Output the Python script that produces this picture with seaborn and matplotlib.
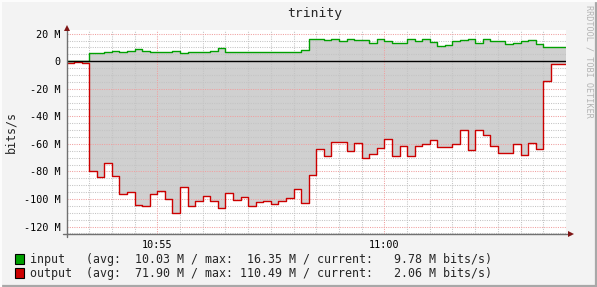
import numpy as np
import pandas as pd
import matplotlib
matplotlib.use("Agg")
import matplotlib.pyplot as plt
import seaborn as sns
from matplotlib.ticker import FixedLocator, MultipleLocator
from matplotlib.patches import Rectangle
from matplotlib.lines import Line2D

# ---------------- data (Mbit/s, 10 s steps starting 10:53:00) ----------------
title = "trinity"
y_label = "bits/s"
watermark = "RRDTOOL / TOBI OETIKER"
step_seconds = 10

input_mbits = [
    0.0, 0.0, 0.0,
    5.8, 5.8, 6.5, 7.3, 6.5, 7.3, 8.7, 7.3, 6.5, 6.5,
    6.5, 7.3, 5.8, 6.5, 6.5, 6.5, 7.3, 9.4, 6.5, 6.5,
    6.5, 6.5, 6.5, 6.5, 6.5, 6.5, 6.5, 6.5, 8.0, 16.0,
    16.3, 15.2, 16.0, 14.5, 16.0, 15.2, 15.2, 13.1, 16.35, 14.5,
    13.1, 13.1, 16.0, 14.5, 16.0, 13.8, 11.1, 11.8, 14.5, 15.2,
    16.0, 13.1, 16.0, 14.5, 14.5, 12.3, 13.1, 14.5, 15.2, 12.3,
    10.2, 10.6, 10.6,
]

output_mbits = [
    -1.2, -0.5, -1.2,
    -79.4, -84.2, -73.6, -83.5, -96.5, -95.1, -104.5, -105.2, -96.5, -94.3,
    -99.7, -110.49, -91.4, -105.2, -101.6, -98.0, -101.6, -106.7, -95.8, -100.9,
    -98.7, -105.2, -102.3, -101.6, -103.8, -101.6, -99.4, -92.9, -103.0, -82.5,
    -63.9, -68.9, -58.8, -58.8, -65.3, -59.5, -70.4, -67.5, -63.1, -56.6,
    -68.9, -61.7, -68.9, -61.7, -60.2, -57.3, -62.4, -62.4, -60.2, -50.1,
    -64.6, -50.1, -53.7, -61.7, -66.8, -66.8, -60.2, -68.2, -59.5, -63.9,
    -14.5, -2.06, -2.06,
]

time_tick_minutes = [2, 7]
time_tick_labels = ["10:55", "11:00"]
y_tick_values = [20, 0, -20, -40, -60, -80, -100, -120]
y_tick_labels = ["20 M", "0", "-20 M", "-40 M", "-60 M", "-80 M", "-100 M", "-120 M"]

legend_texts = [
    "input   (avg:  10.03 M / max:  16.35 M / current:   9.78 M bits/s)",
    "output  (avg:  71.90 M / max: 110.49 M / current:   2.06 M bits/s)",
]

# ---------------- styling ----------------
c_in = "#00a000"
c_out = "#cc0000"
c_fill = "#d0d0d0"
c_back = "#f3f3f3"
c_minor = "#c4c4c4"
c_major = "#f0a0a0"
c_arrow = "#7f1515"
mono = ["DejaVu Sans Mono"]

sns.set_theme(style="white")
plt.rcParams["font.family"] = mono

W, H = 597, 287
fig = plt.figure(figsize=(W / 100, H / 100), dpi=100, facecolor=c_back)

px_left, px_right, px_top, px_bottom = 66.5, 566.0, 30.0, 234.3
ax = fig.add_axes([px_left / W, 1 - px_bottom / H,
                   (px_right - px_left) / W, (px_bottom - px_top) / H])
ax.set_facecolor("white")

n = len(input_mbits)
minutes = np.arange(n + 1) * step_seconds / 60.0
df = pd.DataFrame({
    "minute": minutes,
    "input": input_mbits + [input_mbits[-1]],
    "output": output_mbits + [output_mbits[-1]],
})

ax.fill_between(df["minute"], df["input"], df["output"], step="post",
                color=c_fill, lw=0, zorder=1)

ax.set_xlim(0, minutes[-1])
ax.set_ylim(-125.6, 22.7)

ax.xaxis.set_major_locator(FixedLocator(time_tick_minutes))
ax.xaxis.set_minor_locator(MultipleLocator(0.5))
ax.yaxis.set_major_locator(FixedLocator(y_tick_values))
ax.yaxis.set_minor_locator(MultipleLocator(5))
ax.set_xticklabels(time_tick_labels)
ax.set_yticklabels(y_tick_labels)
ax.grid(False)
for v in np.arange(0, minutes[-1] + 1e-9, 0.5):
    if v in time_tick_minutes or v == 0:
        continue
    ax.axvline(v, color=c_minor, lw=0.75, ls=(0, (1, 1.2)), zorder=1.5)
for v in np.arange(-125, 22.7, 5):
    if v in y_tick_values:
        continue
    ax.axhline(v, color=c_minor, lw=0.75, ls=(0, (1, 1.2)), zorder=1.5)
for v in time_tick_minutes:
    ax.axvline(v, color=c_major, lw=0.75, ls=(0, (1, 1.2)), zorder=1.6)
for v in y_tick_values:
    ax.axhline(v, color=c_major, lw=0.75, ls=(0, (1, 1.2)), zorder=1.6)

sns.lineplot(data=df, x="minute", y="input", drawstyle="steps-post",
             color=c_in, lw=1.0, ax=ax, legend=False, zorder=3)
sns.lineplot(data=df, x="minute", y="output", drawstyle="steps-post",
             color=c_out, lw=1.0, ax=ax, legend=False, zorder=3)
ax.axhline(0, color="black", lw=1.0, zorder=3.5)

ax.set_xlabel("")
ax.set_ylabel("")
for s in ax.spines.values():
    s.set_visible(False)

ax.tick_params(axis="both", which="both", direction="out", color="#909090",
               width=0.7, length=2.3, labelsize=7.3, labelcolor="black")
ax.tick_params(axis="y", which="both", pad=2)
ax.tick_params(axis="x", which="both", pad=2)

# axis lines with arrows
ax.add_line(Line2D([-0.007, 1.01], [0, 0], transform=ax.transAxes,
                   color="#707070", lw=1.0, clip_on=False, zorder=4))
ax.add_line(Line2D([0, 0], [-0.015, 1.01], transform=ax.transAxes,
                   color="#707070", lw=1.0, clip_on=False, zorder=4))
ax.plot([1.0095], [0], marker=">", ms=4.5, color=c_arrow, mew=0,
        transform=ax.transAxes, clip_on=False, zorder=5)
ax.plot([0], [1.008], marker="^", ms=4.5, color=c_arrow, mew=0,
        transform=ax.transAxes, clip_on=False, zorder=5)

# texts
fig.text(315 / W, 1 - 14 / H, title, ha="center", va="center",
         fontsize=9.4, family=mono)
fig.text(11 / W, 1 - 132 / H, y_label, ha="center", va="center",
         rotation=90, fontsize=8.4, family=mono)
fig.text(589 / W, 1 - 5 / H, watermark, ha="center", va="top",
         rotation=270, fontsize=6.1, family=mono, color="#b4b4b4")

# legend
for i, (txt, col) in enumerate(zip(legend_texts, [c_in, c_out])):
    yc = 259 + 14 * i
    fig.patches.append(Rectangle((14.5 / W, 1 - (yc + 5) / H), 9 / W, 10 / H,
                                 transform=fig.transFigure, facecolor=col,
                                 edgecolor="black", lw=0.8))
    fig.text(30 / W, 1 - yc / H, txt, ha="left", va="center",
             fontsize=8.4, family=mono)

# frame
fig.add_artist(Line2D([0, 1], [0.002, 0.002], transform=fig.transFigure,
                      color="#a8a8a8", lw=1.6))
fig.add_artist(Line2D([0.998, 0.998], [0, 1], transform=fig.transFigure,
                      color="#a8a8a8", lw=1.6))
fig.add_artist(Line2D([0, 1], [0.998, 0.998], transform=fig.transFigure,
                      color="#fcfcfc", lw=1.6))
fig.add_artist(Line2D([0.002, 0.002], [0, 1], transform=fig.transFigure,
                      color="#fcfcfc", lw=1.6))

fig.savefig("out.png", dpi=100, facecolor=c_back)
